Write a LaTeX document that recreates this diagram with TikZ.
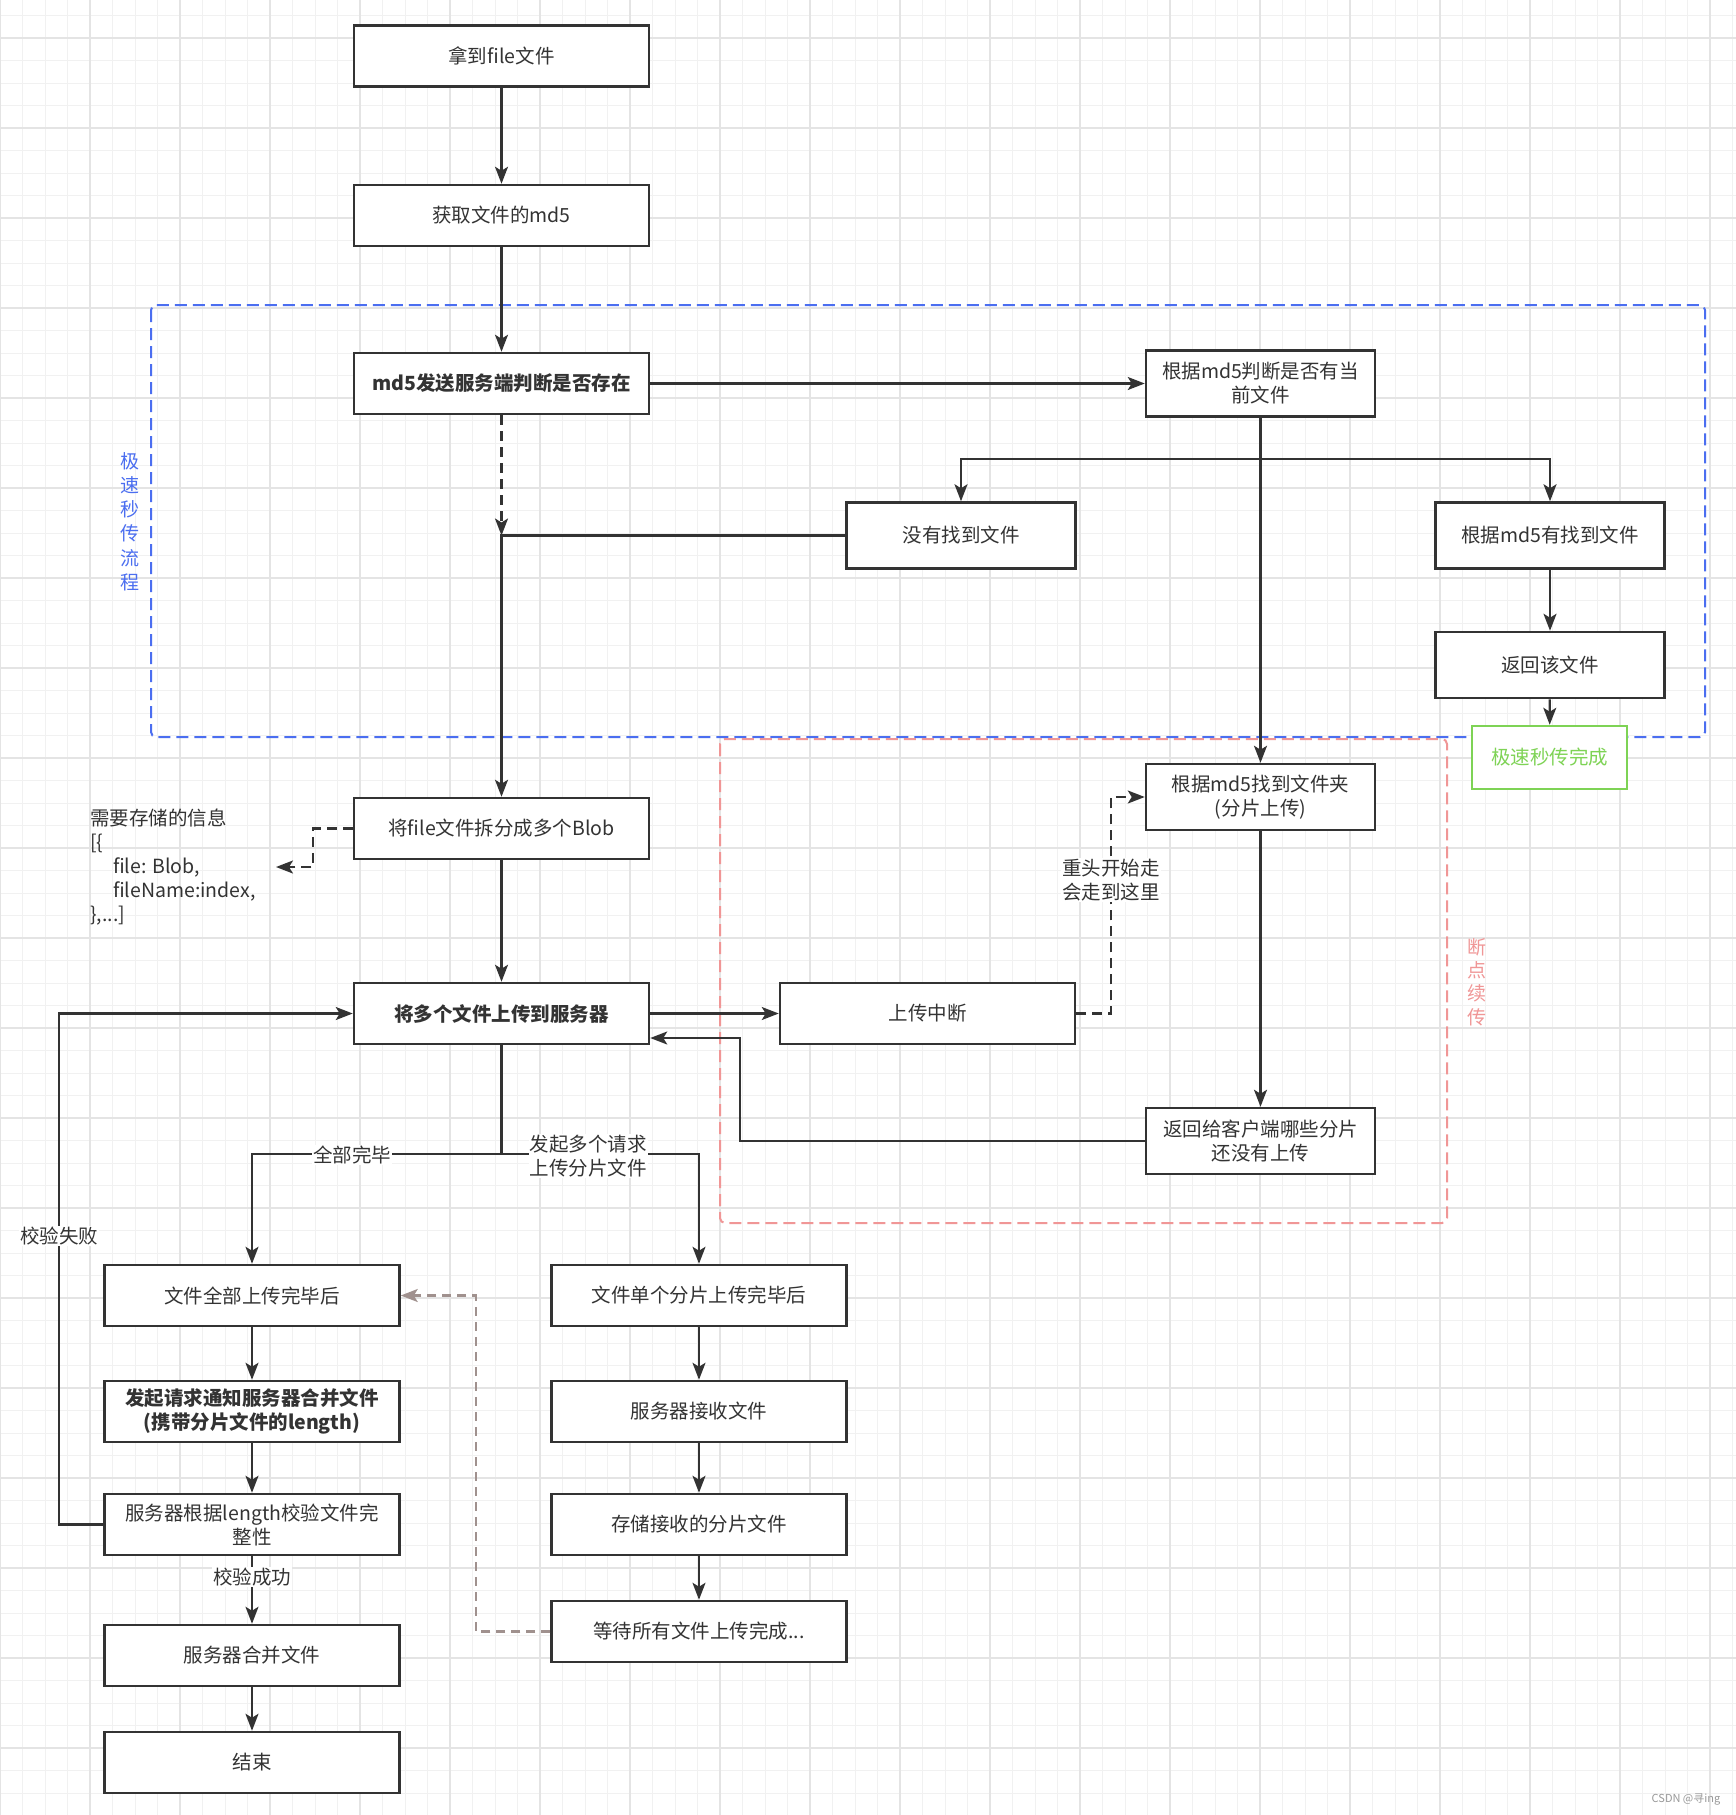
\documentclass[tikz,border=0pt]{standalone}
\usepackage{fontspec}
\setmainfont{Noto Sans CJK SC}
\usetikzlibrary{arrows.meta}
\definecolor{ink}{HTML}{333333}
\definecolor{gridminor}{HTML}{F1F1F1}
\definecolor{gridmajor}{HTML}{E4E4E4}
\definecolor{blueline}{RGB}{75,110,240}
\definecolor{pinkline}{RGB}{240,150,150}
\definecolor{greenline}{RGB}{126,211,85}
\definecolor{brownline}{RGB}{160,145,142}
\newcommand{\bxfont}{\fontsize{19.5}{24}\selectfont}
\begin{document}
\begin{tikzpicture}[x=1pt,y=-1pt,
  box/.style={draw=ink, line width=2.5pt, fill=white, text=ink, font=\bxfont, align=center, inner sep=2pt},
  wide/.style={minimum width=295pt, minimum height=61pt},
  narrow/.style={minimum width=229pt, minimum height=66pt},
  conn/.style={draw=ink, line width=2.2pt, -{Stealth[length=17pt,width=13pt,inset=4pt]}},
  plain/.style={draw=ink, line width=2.2pt},
  dashconn/.style={conn, dash pattern=on 10pt off 6pt},
  brownconn/.style={draw=brownline, line width=2.2pt, dash pattern=on 9pt off 6pt, -{Stealth[length=17pt,width=13pt,inset=4pt]}},
  lbl/.style={fill=white, text=ink, font=\bxfont, align=center, inner sep=1pt},
]
\useasboundingbox (0,0) rectangle (1736,1815);
\fill[white] (0,0) rectangle (1736,1815);
% grid
\foreach \i in {0,...,77} \draw[gridminor, line width=1pt] (\i*22.5,0) -- (\i*22.5,1815);
\foreach \i in {0,...,80} \draw[gridminor, line width=1pt] (0,15.5+\i*22.5) -- (1736,15.5+\i*22.5);
\foreach \i in {0,...,19} \draw[gridmajor, line width=1.2pt] (\i*90,0) -- (\i*90,1815);
\foreach \i in {0,...,19} \draw[gridmajor, line width=1.2pt] (0,38+\i*90) -- (1736,38+\i*90);

% group frames
\draw[blueline, line width=2pt, dash pattern=on 12pt off 6pt, rounded corners=5pt] (151,305) rectangle (1705,737);
\draw[pinkline, line width=2pt, dash pattern=on 12pt off 6pt, rounded corners=5pt] (720,739) rectangle (1447,1223);
\node[text=blueline, font=\fontsize{19}{24.2}\selectfont, align=center, inner sep=0pt] (lblue) at (130,521.5) {极\\速\\秒\\传\\流\\程};
\node[text=pinkline, font=\fontsize{19}{23.4}\selectfont, align=center, inner sep=0pt] (lpink) at (1477,982) {断\\点\\续\\传};

% nodes
\node[box, wide] (a1) at (501.5,56) {拿到file文件};
\node[box, wide] (a2) at (501.5,215.5) {获取文件的md5};
\node[box, wide, font=\bxfont\bfseries] (a3) at (501.5,383.5) {md5发送服务端判断是否存在};
\node[box, narrow] (b1) at (1260.5,383.5) {根据md5判断是否有当\\前文件};
\node[box, narrow] (b2) at (961,535.5) {没有找到文件};
\node[box, narrow] (b3) at (1550,535.5) {根据md5有找到文件};
\node[box, narrow] (b4) at (1550,665) {返回该文件};
\node[box, draw=greenline, text=greenline, minimum width=155pt, minimum height=63pt] (g) at (1549.5,757.5) {极速秒传完成};
\node[box, narrow] (c1) at (1260.5,797) {根据md5找到文件夹\\(分片上传)};
\node[box, wide] (c2) at (927.5,1013.5) {上传中断};
\node[box, narrow] (c3) at (1260.5,1141) {返回给客户端哪些分片\\还没有上传};
\node[box, wide] (d1) at (501.5,828.5) {将file文件拆分成多个Blob};
\node[box, wide, font=\bxfont\bfseries] (d2) at (501.5,1013.5) {将多个文件上传到服务器};
\node[box, wide] (e1) at (252,1295.5) {文件全部上传完毕后};
\node[box, wide, font=\bxfont\bfseries] (e2) at (252,1411.5) {发起请求通知服务器合并文件\\(携带分片文件的length)};
\node[box, wide] (e3) at (252,1524.5) {服务器根据length校验文件完\\整性};
\node[box, wide] (e4) at (252,1655.5) {服务器合并文件};
\node[box, wide] (e5) at (252,1762.5) {结束};
\node[box, wide] (f1) at (699,1295.5) {文件单个分片上传完毕后};
\node[box, wide] (f2) at (699,1411.5) {服务器接收文件};
\node[box, wide] (f3) at (699,1524.5) {存储接收的分片文件};
\node[box, wide] (f4) at (699,1631.5) {等待所有文件上传完成...};

\node[text=ink, font=\bxfont, align=left, anchor=west, inner sep=0pt] (info) at (90,867)
  {需要存储的信息\\{[}\{\\\hspace*{23pt}file: Blob,\\\hspace*{23pt}fileName:index,\\\},...{]}};

% coordinates
\coordinate (j1) at (501.5,535.5);
\coordinate (js) at (1260.5,459);
\coordinate (k1) at (1111,0);
\coordinate (rr) at (740,1038);
\coordinate (ib) at (313,0);
\coordinate (infotip) at (276,867);
\coordinate (j2) at (501.5,1154);
\coordinate (bb) at (476,0);
\coordinate (lf) at (59,0);

% connectors
\draw[conn] (a1) -- (a2);
\draw[conn] (a2) -- (a3);
\draw[conn] (a3.east) -- (b1.west);
\draw[dashconn] (a3.south) -- (j1);
\draw[conn] (b2.west) -- (j1) -- (d1.north);
\draw[plain] (b1.south) -- (js);
\draw[conn] (js) -| (b2.north);
\draw[conn] (js) -| (b3.north);
\draw[conn] (b1.south) -- (c1.north);
\draw[conn] (b3) -- (b4);
\draw[conn] (b4) -- (g);
\draw[conn] (c1) -- (c3);
\draw[dashconn] (c2.east) -- (c2.east -| k1) |- (c1.west);
\node[lbl] (lrestart) at (1111,880) {重头开始走\\会走到这里};
\draw[conn] (c3.west) -| (rr) -- (rr -| d2.east);
\draw[conn] (d2.east) -- (c2.west);
\draw[conn] (d1) -- (d2);
\draw[dashconn] (d1.west) -- (d1.west -| ib) |- (infotip);
\draw[plain] (d2.south) -- (j2);
\draw[conn] (j2) -| (e1.north);
\draw[conn] (j2) -| (f1.north);
\node[lbl] (lall) at (352,1155) {全部完毕};
\node[lbl] (lmulti) at (588,1156) {发起多个请求\\上传分片文件};
\draw[conn] (e1) -- (e2);
\draw[conn] (e2) -- (e3);
\draw[conn] (e3) -- (e4);
\node[lbl] (lok) at (252,1577) {校验成功};
\draw[conn] (e4) -- (e5);
\draw[conn] (f1) -- (f2);
\draw[conn] (f2) -- (f3);
\draw[conn] (f3) -- (f4);
\draw[brownconn] (f4.west) -- (f4.west -| bb) |- (e1.east);
\draw[conn] (e3.west) -- (e3.west -| lf) |- (d2.west);
\node[lbl] (lfail) at (59,1236) {校验失败};

\node[text=gray!80, font=\fontsize{11}{13}\selectfont, inner sep=0pt] (wm) at (1686,1799) {CSDN @寻ing};
\end{tikzpicture}
\end{document}
